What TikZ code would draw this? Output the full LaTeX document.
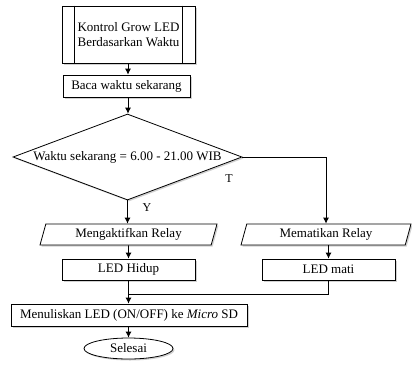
\documentclass[tikz,border=0pt]{standalone}
\usepackage{fontspec}
\setmainfont{Liberation Serif}
\usetikzlibrary{arrows.meta,shapes.geometric,shadows}
\begin{document}
\begin{tikzpicture}[x=1pt,y=-1pt,
  every node/.style={font=\fontsize{13}{15}\selectfont, inner sep=0pt},
  shad/.style={drop shadow={shadow xshift=1.5pt,shadow yshift=-1.5pt,opacity=0.3,fill=black!60}},
  box/.style={draw, fill=white, line width=0.8pt, rectangle, shad},
  para/.style={draw, fill=white, line width=0.8pt, trapezium, trapezium left angle=64, trapezium right angle=116, trapezium stretches body, minimum height=21pt, shad},
  dec/.style={draw, fill=white, line width=0.8pt, diamond, aspect=2.66, minimum width=229pt, minimum height=86pt, shad},
  term/.style={draw, fill=white, line width=0.8pt, ellipse, minimum width=89pt, minimum height=21pt, shad},
  line/.style={line width=0.8pt},
  arr/.style={line, -{Latex[length=6pt,width=6pt]}},
  lbl/.style={font=\fontsize{12}{14}\selectfont}
]
\useasboundingbox (0,0) rectangle (412,365);

\node[box, minimum width=133pt, minimum height=57pt, align=center] (start) at (128.5,34.5) {Kontrol Grow LED\\Berdasarkan Waktu};
\draw[line] ([xshift=13pt]start.north west) -- ([xshift=13pt]start.south west);
\draw[line] ([xshift=-13pt]start.north east) -- ([xshift=-13pt]start.south east);

\node[box, minimum width=127pt, minimum height=22pt] (baca) at (126.5,86) {Baca waktu sekarang};

\node[dec] (dec) at (127.5,157) {Waktu sekarang = 6.00 - 21.00 WIB};

\node[para, minimum width=177pt] (aktif) at (128.5,234.5) {Mengaktifkan Relay};
\node[para, minimum width=170pt] (mati) at (326,234.5) {Mematikan Relay};

\node[box, minimum width=133pt, minimum height=21pt] (hidup) at (128.5,269.5) {LED Hidup};
\node[box, minimum width=133pt, minimum height=21pt] (ledmati) at (328.5,269.5) {LED mati};

\coordinate (merge) at (128.5,294);

\node[box, minimum width=236pt, minimum height=22pt] (tulis) at (129,315) {Menuliskan LED (ON/OFF) ke \textit{Micro} SD};

\node[term] (selesai) at (128.5,348.5) {Selesai};

\draw[arr] (start.south -| 128,0) -- (baca.north -| 128,0);
\draw[arr] (baca.south -| 128,0) -- (dec.north -| 128,0);
\draw[arr] (dec.south) -- (aktif.north -| dec.south);
\draw[arr] (dec.east) -| (mati.north);
\draw[arr] (aktif.south) -- (hidup.north);
\draw[arr] (mati.south -| ledmati.north) -- (ledmati.north);
\draw[line] (ledmati.south) |- (merge);
\draw[arr] (hidup.south) -- (hidup.south |- tulis.north);
\draw[arr] (tulis.south -| selesai.north) -- (selesai.north);

\node[lbl] (y) at (147,208) {Y};
\node[lbl] (t) at (229,179) {T};
\end{tikzpicture}
\end{document}
